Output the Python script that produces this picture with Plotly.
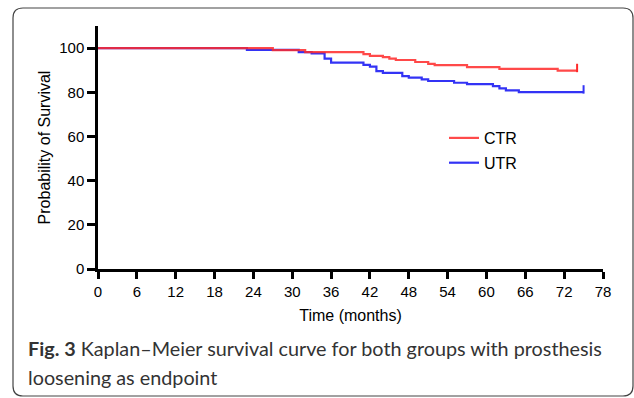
import plotly.graph_objects as go

# ---- data ----
ctr_time = [0, 27, 32, 41, 42, 44, 45, 46, 49, 51, 52, 57, 62, 71, 74]
ctr_surv = [100, 99.1, 98.2, 97.3, 96.5, 95.9, 95.2, 94.6, 93.7, 92.9, 92.3, 91.4, 90.6, 89.8, 89.8]

utr_time = [0, 23, 31, 33, 35, 36, 41, 42, 43, 44, 47, 48, 50, 51, 55, 57, 61, 62, 63, 65, 75]
utr_surv = [100, 99.2, 98.2, 97.6, 95.2, 93.4, 92.4, 91.6, 89.6, 88.8, 87.3, 86.6, 85.8, 85.1, 84.3,
            83.7, 82.8, 81.8, 80.9, 80.1, 80.1]

x_ticks = list(range(0, 79, 6))
y_ticks = [0, 20, 40, 60, 80, 100]

RED = "#FF2A2A"
BLUE = "#3333F5"
W, H = 634, 398
L, R, T, B = 98, 603, 26, 269  # plot area in px


def px(x):
    return (x - L) / (R - L)


def py(y):
    return (B - y) / (B - T)


fig = go.Figure()
fig.add_trace(go.Scatter(x=utr_time, y=utr_surv, mode="lines", line_shape="hv",
                         line=dict(color=BLUE, width=2.2), name="UTR", legendgroup="u",
                         legendrank=2))
fig.add_trace(go.Scatter(x=ctr_time, y=ctr_surv, mode="lines", line_shape="hv",
                         line=dict(color=RED, width=2.2), opacity=0.85, name="CTR",
                         legendgroup="c", legendrank=1))
# censor ticks at the end of each curve
fig.add_trace(go.Scatter(x=[ctr_time[-1]], y=[ctr_surv[-1] + 1.2], mode="markers",
                         marker=dict(symbol="line-ns-open", size=6, color=RED,
                                     line=dict(color=RED, width=2)),
                         showlegend=False, hoverinfo="skip"))
fig.add_trace(go.Scatter(x=[utr_time[-1]], y=[utr_surv[-1] + 1.2], mode="markers",
                         marker=dict(symbol="line-ns-open", size=6, color=BLUE,
                                     line=dict(color=BLUE, width=2)),
                         showlegend=False, hoverinfo="skip"))

axis_font = dict(family="Liberation Sans, Arial", size=15, color="#000")
title_font = dict(family="Liberation Sans, Arial", size=16, color="#000")

fig.update_xaxes(range=[0, 78], tickvals=x_ticks, ticktext=[str(v) for v in x_ticks],
                 showline=True, linecolor="#000", linewidth=2.5, ticks="outside", ticklen=7,
                 tickwidth=2.5, tickcolor="#000", showgrid=False, zeroline=False,
                 automargin=False,
                 tickfont=axis_font, title=dict(text="Time (months)", font=title_font, standoff=12))
fig.update_yaxes(range=[0, 110], tickvals=y_ticks, ticktext=[str(v) for v in y_ticks],
                 showline=True, linecolor="#000", linewidth=2.5, ticks="outside", ticklen=8,
                 tickwidth=2.5, tickcolor="#000", showgrid=False, zeroline=False,
                 automargin=False,
                 tickfont=axis_font,
                 title=dict(text="Probability of Survival", font=title_font, standoff=5))

# rounded frame
bl, bt, br, bb, rad = 13, 8, 633, 396, 10
path = (f"M {px(bl + rad)},{py(bt)} L {px(br - rad)},{py(bt)} "
        f"Q {px(br)},{py(bt)} {px(br)},{py(bt + rad)} L {px(br)},{py(bb - rad)} "
        f"Q {px(br)},{py(bb)} {px(br - rad)},{py(bb)} L {px(bl + rad)},{py(bb)} "
        f"Q {px(bl)},{py(bb)} {px(bl)},{py(bb - rad)} L {px(bl)},{py(bt + rad)} "
        f"Q {px(bl)},{py(bt)} {px(bl + rad)},{py(bt)} Z")
fig.add_shape(type="path", path=path, xref="paper", yref="paper",
              line=dict(color="#444", width=1.2))

cap_font = dict(family="Lato, Open Sans", size=19.8, color="#333")
fig.add_annotation(text="<b>Fig. 3</b> Kaplan–Meier survival curve for both groups with prosthesis",
                   xref="paper", yref="paper", x=px(26), y=py(348), xanchor="left",
                   yanchor="middle", showarrow=False, font=cap_font)
fig.add_annotation(text="loosening as endpoint",
                   xref="paper", yref="paper", x=px(26), y=py(377), xanchor="left",
                   yanchor="middle", showarrow=False, font=cap_font)

fig.update_layout(
    width=W, height=H,
    margin=dict(l=L, r=W - R, t=T, b=H - B, autoexpand=False),
    paper_bgcolor="white", plot_bgcolor="white",
    legend=dict(x=px(444), y=py(121), xanchor="left", yanchor="top",
                font=dict(family="Liberation Sans, Arial", size=16, color="#000"),
                tracegroupgap=1, bgcolor="rgba(0,0,0,0)"),
    showlegend=True,
)

fig.write_html("out.html", config={"displayModeBar": False},
               post_script="document.body.style.margin='0';document.body.style.overflow='hidden';")
